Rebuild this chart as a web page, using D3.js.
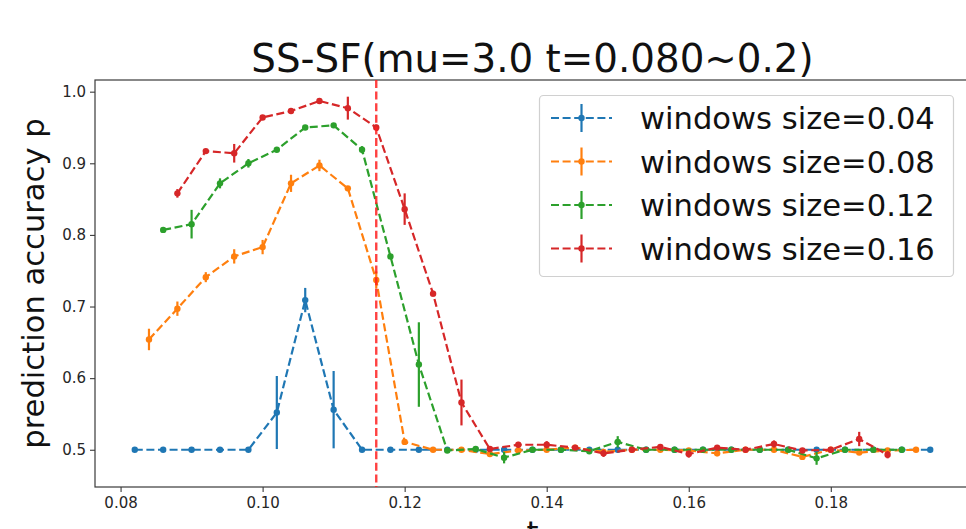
<!DOCTYPE html>
<html>
<head>
<meta charset="utf-8">
<script src="https://cdn.jsdelivr.net/npm/d3@7"></script>
<style>
  html, body { margin: 0; padding: 0; background: #fff; overflow: hidden; }
  svg { display: block; font-family: "DejaVu Sans", sans-serif; }
</style>
</head>
<body>
<svg id="chart" width="966" height="529"></svg>
<script>
// ---------- data ----------
const titleText = "SS-SF(mu=3.0 t=0.080~0.2)";
const xLabel = "t";
const yLabel = "prediction accuracy p";
const xTicks = [0.08, 0.10, 0.12, 0.14, 0.16, 0.18];
const yTicks = [0.5, 0.6, 0.7, 0.8, 0.9, 1.0];
const seriesNames = ["windows size=0.04", "windows size=0.08", "windows size=0.12", "windows size=0.16"];
const seriesColors = ["#1f77b4", "#ff7f0e", "#2ca02c", "#d62728"];
const thresholdT = 0.116;

const tBlue = [0.082,0.086,0.090,0.094,0.098,0.102,0.106,0.110,0.114,0.118,0.122,0.126,0.130,0.134,0.138,0.142,0.146,0.150,0.154,0.158,0.162,0.166,0.170,0.174,0.178,0.182,0.186,0.190,0.194];
const pBlue = [0.5,0.5,0.5,0.5,0.5,0.552,0.709,0.556,0.5,0.5,0.5,0.5,0.5,0.5,0.5,0.5,0.5,0.5,0.5,0.5,0.5,0.5,0.5,0.5,0.5,0.5,0.5,0.5,0.5];
const eBlue = [0,0,0,0,0,0.051,0.017,0.054,0,0,0,0,0,0,0,0,0,0,0,0,0,0,0,0,0,0,0,0,0];

const tOrange = [0.084,0.088,0.092,0.096,0.100,0.104,0.108,0.112,0.116,0.120,0.124,0.128,0.132,0.136,0.140,0.144,0.148,0.152,0.156,0.160,0.164,0.168,0.172,0.176,0.180,0.184,0.188,0.192];
const pOrange = [0.654,0.697,0.741,0.770,0.783,0.872,0.897,0.865,0.737,0.511,0.500,0.500,0.494,0.499,0.500,0.503,0.497,0.500,0.500,0.499,0.495,0.500,0.500,0.490,0.500,0.496,0.499,0.500];
const eOrange = [0.015,0.010,0.007,0.010,0.010,0.012,0.008,0.003,0.012,0.004,0.002,0.002,0.004,0.003,0.002,0.003,0.003,0.002,0.002,0.003,0.004,0.002,0.002,0.004,0.002,0.003,0.002,0.002];

const tGreen = [0.086,0.090,0.094,0.098,0.102,0.106,0.110,0.114,0.118,0.122,0.126,0.130,0.134,0.138,0.142,0.146,0.150,0.154,0.158,0.162,0.166,0.170,0.174,0.178,0.182,0.186,0.190];
const pGreen = [0.807,0.815,0.872,0.900,0.919,0.950,0.953,0.919,0.770,0.619,0.499,0.501,0.489,0.500,0.500,0.498,0.511,0.500,0.500,0.500,0.500,0.500,0.500,0.488,0.500,0.500,0.500];
const eGreen = [0.003,0.020,0.007,0.006,0.003,0.003,0.003,0.005,0.003,0.059,0.003,0.002,0.008,0.002,0.002,0.003,0.008,0.002,0.002,0.002,0.002,0.002,0.002,0.009,0.002,0.002,0.002];

const tRed = [0.088,0.092,0.096,0.100,0.104,0.108,0.112,0.116,0.120,0.124,0.128,0.132,0.136,0.140,0.144,0.148,0.152,0.156,0.160,0.164,0.168,0.172,0.176,0.180,0.184,0.188];
const pRed = [0.858,0.917,0.914,0.964,0.973,0.987,0.977,0.950,0.836,0.718,0.566,0.501,0.507,0.507,0.503,0.495,0.500,0.504,0.494,0.503,0.500,0.508,0.499,0.500,0.515,0.493];
const eRed = [0.006,0.003,0.013,0.003,0.003,0.003,0.016,0.004,0.022,0.004,0.032,0.003,0.004,0.005,0.003,0.005,0.003,0.003,0.005,0.003,0.003,0.005,0.003,0.003,0.010,0.005];

const allT = [tBlue, tOrange, tGreen, tRed];
const allP = [pBlue, pOrange, pGreen, pRed];
const allE = [eBlue, eOrange, eGreen, eRed];

// ---------- layout ----------
const svg = d3.select("#chart");
const plot = { left: 95, right: 970, top: 80, bottom: 487 };

const x = d3.scaleLinear().domain([0.0764, 0.1996]).range([plot.left, plot.right]);
const y = d3.scaleLinear().domain([0.448, 1.0163]).range([plot.bottom, plot.top]);

const textColor = "#262626";
const spineColor = "#3a3a3a";

// title
svg.append("text")
  .attr("x", (plot.left + plot.right) / 2)
  .attr("y", 72)
  .attr("text-anchor", "middle")
  .attr("font-size", 38.8)
  .attr("fill", "#111")
  .text(titleText);

// axes
const xAxis = d3.axisBottom(x).tickValues(xTicks).tickFormat(d3.format(".2f")).tickSize(5).tickPadding(5);
const yAxis = d3.axisLeft(y).tickValues(yTicks).tickFormat(d3.format(".1f")).tickSize(5).tickPadding(4);

const gx = svg.append("g").attr("transform", `translate(0,${plot.bottom})`).call(xAxis);
const gy = svg.append("g").attr("transform", `translate(${plot.left},0)`).call(yAxis);
[gx, gy].forEach(g => {
  g.select(".domain").remove();
  g.selectAll(".tick line").attr("stroke", spineColor).attr("stroke-width", 1.1);
  g.selectAll(".tick text").attr("font-size", 15).attr("fill", textColor).attr("font-family", "DejaVu Sans, sans-serif");
});

// spines
svg.append("rect")
  .attr("x", plot.left).attr("y", plot.top)
  .attr("width", plot.right - plot.left).attr("height", plot.bottom - plot.top)
  .attr("fill", "none").attr("stroke", spineColor).attr("stroke-width", 1.2);

// axis labels
svg.append("text")
  .attr("transform", `translate(44,${(plot.top + plot.bottom) / 2}) rotate(-90)`)
  .attr("text-anchor", "middle")
  .attr("font-size", 30.6)
  .attr("fill", "#111")
  .text(yLabel);

svg.append("text")
  .attr("x", (plot.left + plot.right) / 2)
  .attr("y", 543)
  .attr("text-anchor", "middle")
  .attr("font-size", 30.6)
  .attr("fill", "#111")
  .text(xLabel);

// series
const line = d3.line().x(d => x(d.t)).y(d => y(d.p));
const gData = svg.append("g");
allT.forEach((ts, i) => {
  const pts = ts.map((t, j) => ({ t, p: allP[i][j], e: allE[i][j] }));
  const g = gData.append("g");
  g.append("path")
    .datum(pts)
    .attr("d", line)
    .attr("fill", "none")
    .attr("stroke", seriesColors[i])
    .attr("stroke-width", 2.2)
    .attr("stroke-dasharray", "8,3.6");
  g.selectAll("line.err")
    .data(pts.filter(d => d.e > 0))
    .join("line")
    .attr("class", "err")
    .attr("x1", d => x(d.t)).attr("x2", d => x(d.t))
    .attr("y1", d => y(d.p - d.e)).attr("y2", d => y(d.p + d.e))
    .attr("stroke", seriesColors[i])
    .attr("stroke-width", 2.2);
  g.selectAll("circle")
    .data(pts)
    .join("circle")
    .attr("cx", d => x(d.t)).attr("cy", d => y(d.p))
    .attr("r", 3.2)
    .attr("fill", seriesColors[i]);
});

// threshold vertical line
svg.append("line")
  .attr("x1", x(thresholdT)).attr("x2", x(thresholdT))
  .attr("y1", plot.top).attr("y2", plot.bottom)
  .attr("stroke", "#ff2020")
  .attr("stroke-opacity", 0.85)
  .attr("stroke-width", 2.4)
  .attr("stroke-dasharray", "8,3.6");

// legend
const leg = svg.append("g");
leg.append("rect")
  .attr("x", 539.5).attr("y", 95.5)
  .attr("width", 414).attr("height", 181)
  .attr("rx", 4).attr("ry", 4)
  .attr("fill", "#fff").attr("fill-opacity", 0.85)
  .attr("stroke", "#d0d0d0").attr("stroke-width", 1.2);

seriesNames.forEach((name, i) => {
  const cy = 118 + i * 43.5;
  const item = leg.append("g");
  item.append("line")
    .attr("x1", 551).attr("x2", 612).attr("y1", cy).attr("y2", cy)
    .attr("stroke", seriesColors[i]).attr("stroke-width", 2.2)
    .attr("stroke-dasharray", "8,3.6");
  item.append("line")
    .attr("x1", 581.5).attr("x2", 581.5).attr("y1", cy - 14).attr("y2", cy + 14)
    .attr("stroke", seriesColors[i]).attr("stroke-width", 2.2);
  item.append("circle")
    .attr("cx", 581.5).attr("cy", cy).attr("r", 3.2)
    .attr("fill", seriesColors[i]);
  item.append("text")
    .attr("x", 640).attr("y", cy + 11)
    .attr("font-size", 30.6)
    .attr("fill", "#111")
    .text(name);
});
</script>
</body>
</html>
